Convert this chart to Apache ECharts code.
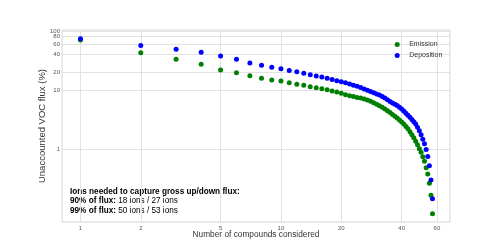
<!DOCTYPE html>
<html><head><meta charset="utf-8">
<script src="https://cdn.jsdelivr.net/npm/echarts@6/dist/echarts.min.js"></script>
<style>html,body{margin:0;padding:0;background:#fff}#c{width:500px;height:250px}</style>
</head><body><div id="c"></div>
<script>
const nCompounds = [1,2,3,4,5,6,7,8,9,10,11,12,13,14,15,16,17,18,19,20,21,22,23,24,25,26,27,28,29,30,31,32,33,34,35,36,37,38,39,40,41,42,43,44,45,46,47,48,49,50,51,52,53,54,55,56,57];
const emission = [70.4,42.9,33.1,27.3,21.8,19.6,17.5,15.8,14.8,14.2,13.3,12.5,12.0,11.4,10.9,10.5,10.1,9.6,9.25,8.8,8.3,8.0,7.75,7.5,7.3,7.05,6.75,6.45,6.1,5.75,5.4,5.1,4.75,4.45,4.15,3.85,3.6,3.35,3.1,2.88,2.65,2.42,2.2,1.97,1.75,1.55,1.36,1.18,1.01,0.88,0.74,0.62,0.48,0.377,0.262,0.164,0.08];
const deposition = [74,57,49,43.5,37.7,33.1,28.7,26.2,24.2,23.0,21.5,20.4,19.2,18.2,17.3,16.6,15.8,15.1,14.4,13.8,13.3,12.7,12.1,11.6,11.0,10.45,9.9,9.45,9.0,8.6,8.2,7.75,7.3,6.85,6.4,6.0,5.75,5.45,5.1,4.75,4.4,4.05,3.75,3.45,3.15,2.9,2.65,2.35,2.05,1.75,1.46,1.23,0.98,0.75,0.52,0.30,0.144];
const xTickValues = [1,2,5,10,20,40,60];
const yTickValues = [1,10,20,40,60,80,100];
const xRange = [0.809, 69.7];
const yRange = [0.058, 104];
const ions90 = [18, 27];
const ions99 = [50, 53];

const L = Math.log10;
const FONT = "'Liberation Sans', Arial, sans-serif";
const GREEN = '#008000', BLUE = '#0000ff';
const toPts = vals => nCompounds.map((n, i) => [L(n), L(vals[i])]);
const tickFmt = ticks => v => {
  const t = ticks.find(t => Math.abs(L(t) - v) < 1e-6);
  return t === undefined ? '' : String(t);
};
// blank guard labels at the axis ends keep ECharts' min/max overlap check from dropping real labels
const yLabelValues = [L(yRange[0]) + 0.001].concat(yTickValues.map(L), [L(yRange[1]) - 0.001]);

const chart = echarts.init(document.getElementById('c'), null, {renderer: 'canvas'});
chart.setOption({
  animation: false,
  backgroundColor: '#fff',
  textStyle: {fontFamily: FONT},
  grid: {left: 62, right: 50, top: 30, bottom: 28, show: true, borderColor: '#d6d6d6', borderWidth: 1, containLabel: false},
  xAxis: {
    type: 'value', min: L(xRange[0]), max: L(xRange[1]),
    name: 'Number of compounds considered', nameLocation: 'middle', nameGap: 9, nameMoveOverlap: false,
    nameTextStyle: {fontSize: 8.3, color: '#333', fontFamily: FONT},
    axisLine: {show: false},
    axisTick: {show: false, customValues: xTickValues.map(L)},
    axisLabel: {customValues: xTickValues.map(L), formatter: tickFmt(xTickValues), fontSize: 6, color: '#555', margin: 3, hideOverlap: false, fontFamily: FONT},
    splitLine: {show: true, lineStyle: {color: '#e2e2e2', width: 1}}
  },
  yAxis: {
    type: 'value', min: L(yRange[0]), max: L(yRange[1]),
    name: 'Unaccounted VOC flux (%)', nameLocation: 'middle', nameGap: 15, nameMoveOverlap: false,
    nameTextStyle: {fontSize: 9.5, color: '#333', fontFamily: FONT},
    axisLine: {show: false},
    axisTick: {show: false, customValues: yTickValues.map(L)},
    axisLabel: {customValues: yLabelValues, formatter: tickFmt(yTickValues), fontSize: 6, color: '#555', margin: 2, hideOverlap: false, fontFamily: FONT},
    splitLine: {show: true, lineStyle: {color: '#e2e2e2', width: 1}}
  },
  legend: {
    data: ['Emission', 'Deposition'], orient: 'vertical', left: 389.7, top: 35.5,
    icon: 'circle', itemWidth: 14, itemHeight: 5, itemGap: 3,
    textStyle: {fontSize: 7, color: '#333', lineHeight: 8, fontFamily: FONT}
  },
  series: [
    {name: 'Emission', type: 'scatter', data: toPts(emission), symbolSize: 5, itemStyle: {color: GREEN, opacity: 1}},
    {name: 'Deposition', type: 'scatter', data: toPts(deposition), symbolSize: 5, itemStyle: {color: BLUE, opacity: 1}}
  ],
  graphic: [{
    type: 'text', left: 70, top: 186.5, silent: true,
    style: {
      text: '{b|Ions needed to capture gross }{bg|up}{b|/}{bb|down}{b| flux:}\n' +
            '{b|90% of flux: }{g|' + ions90[0] + ' ions}{k| / }{u|' + ions90[1] + ' ions}\n' +
            '{b|99% of flux: }{g|' + ions99[0] + ' ions}{k| / }{u|' + ions99[1] + ' ions}',
      font: '8.2px ' + FONT,
      lineHeight: 9.5,
      rich: {
        b: {fontWeight: 'bold', fontSize: 8.2, color: '#000', lineHeight: 9.5, fontFamily: FONT},
        bg: {fontWeight: 'bold', fontSize: 8.2, color: GREEN, lineHeight: 9.5, fontFamily: FONT},
        bb: {fontWeight: 'bold', fontSize: 8.2, color: BLUE, lineHeight: 9.5, fontFamily: FONT},
        g: {fontSize: 8.2, color: GREEN, lineHeight: 9.5, fontFamily: FONT},
        u: {fontSize: 8.2, color: BLUE, lineHeight: 9.5, fontFamily: FONT},
        k: {fontSize: 8.2, color: '#000', lineHeight: 9.5, fontFamily: FONT}
      }
    }
  }]
});
</script>
</body></html>
